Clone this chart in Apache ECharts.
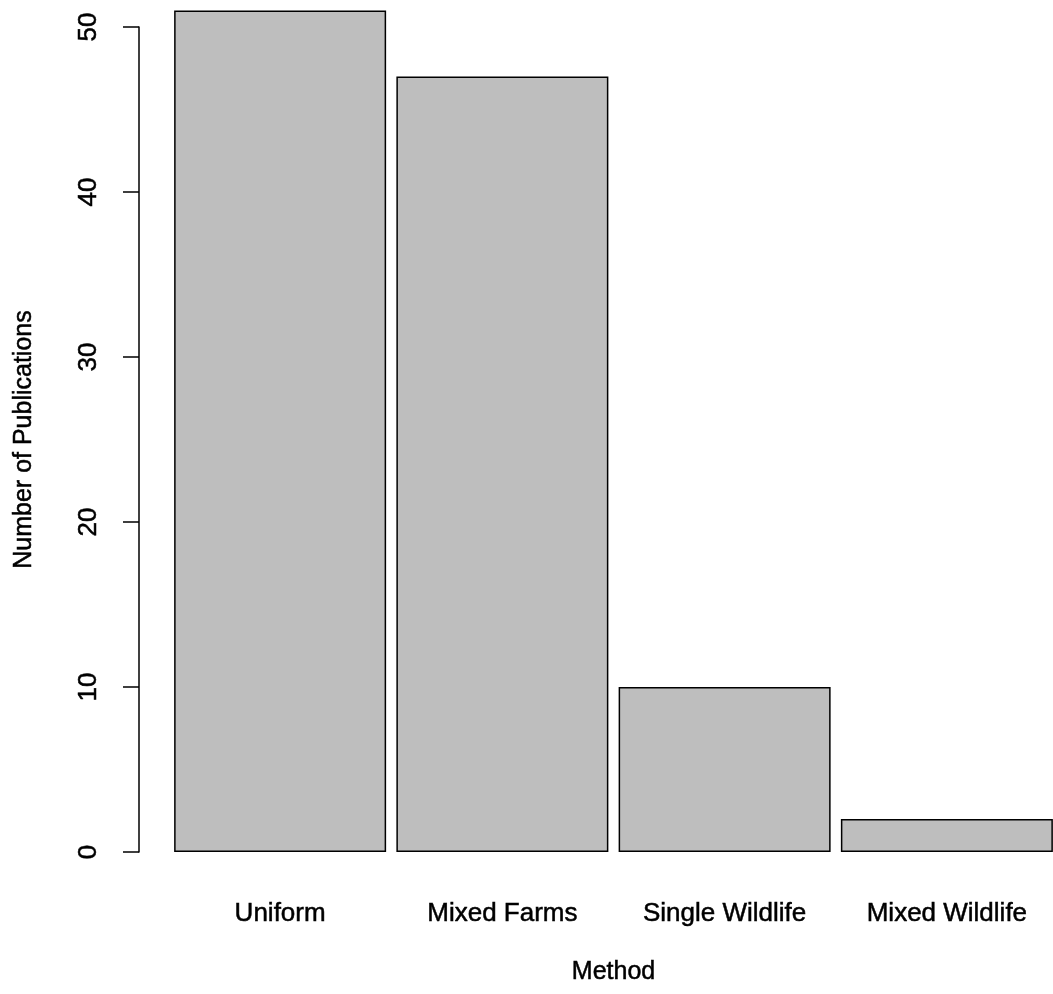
<!DOCTYPE html>
<html>
<head>
<meta charset="utf-8">
<script src="https://cdn.jsdelivr.net/npm/echarts@6/dist/echarts.min.js"></script>
<style>
html,body{margin:0;padding:0;background:#fff;overflow:hidden;width:1053px;height:994px;}
#chart{width:1064px;height:994px;}
</style>
</head>
<body>
<div id="chart"></div>
<script>
const categories = ["Uniform", "Mixed Farms", "Single Wildlife", "Mixed Wildlife"];
const publications = [51, 47, 10, 2];
const yTicks = [0, 10, 20, 30, 40, 50];
const xTitle = "Method";
const yTitle = "Number of Publications";

const FONT = "'Liberation Sans', Arial, sans-serif";
const txt = (size) => ({color: '#000', fontSize: size, fontFamily: FONT, textBorderColor: '#000', textBorderWidth: 0.5});
const chart = echarts.init(document.getElementById('chart'), null, {renderer: 'canvas'});
chart.setOption({
  backgroundColor: '#ffffff',
  animation: false,
  grid: {left: 169, width: 889, top: 27, bottom: 142, containLabel: false},
  xAxis: {
    type: 'category',
    data: categories,
    name: xTitle,
    nameLocation: 'middle',
    nameGap: 108,
    nameTextStyle: txt(25),
    axisLine: {show: false},
    axisTick: {show: false},
    axisLabel: Object.assign(txt(26), {margin: 49, interval: 0})
  },
  yAxis: {
    type: 'value',
    min: yTicks[0],
    max: yTicks[yTicks.length - 1],
    interval: 10,
    offset: 30,
    name: yTitle,
    nameLocation: 'middle',
    nameGap: 102,
    nameTextStyle: txt(25),
    axisLine: {show: true, lineStyle: {color: '#000', width: 1.5}},
    axisTick: {show: true, inside: false, length: 16, lineStyle: {color: '#000', width: 1.5}},
    axisLabel: Object.assign(txt(26), {rotate: 90, margin: 37}),
    splitLine: {show: false}
  },
  series: [{
    type: 'bar',
    data: publications,
    barWidth: 212,
    clip: false,
    itemStyle: {color: '#bebebe', borderColor: '#000', borderWidth: 1.5}
  }]
});
</script>
</body>
</html>
